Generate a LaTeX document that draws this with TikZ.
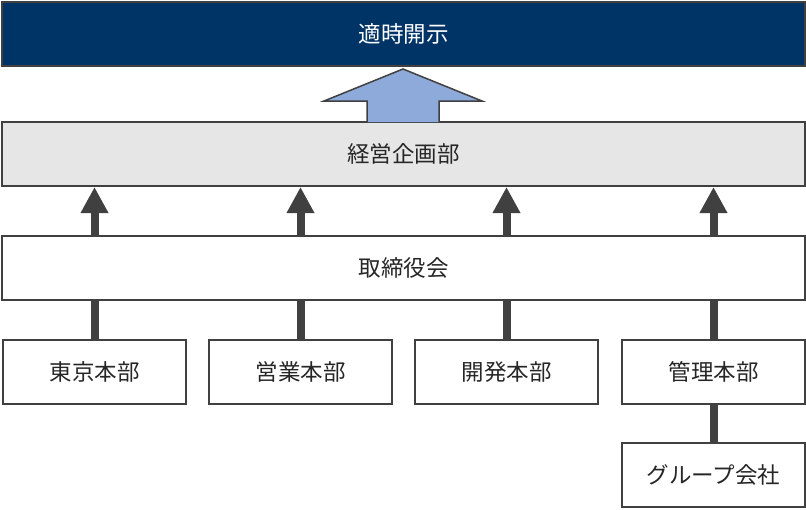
\documentclass[tikz,border=0pt]{standalone}
\usepackage{fontspec}
\setmainfont{Noto Sans CJK JP}
\usetikzlibrary{arrows.meta}
\definecolor{navy}{HTML}{003366}
\definecolor{edge}{HTML}{404040}
\definecolor{lightgray}{HTML}{E6E6E6}
\definecolor{arrowblue}{HTML}{8EAADB}
\definecolor{txt}{HTML}{262626}
\tikzset{
  box/.style={draw=edge, line width=2pt, fill=white, minimum height=64pt, inner sep=0pt, font=\fontsize{22.5}{22.5}\selectfont, text=txt},
  small/.style={box, minimum width=183pt},
  wide/.style={box, minimum width=803pt},
  link/.style={draw=edge, line width=8pt},
  uparrow/.style={link, -{Triangle[width=26pt,length=26pt]}},
  bigarrow/.style={draw=edge, line width=1.5pt, fill=arrowblue, line join=miter}
}
\begin{document}
\begin{tikzpicture}[x=1pt,y=-1pt]
\useasboundingbox (0,0) rectangle (806,509);
\node[wide, fill=navy, text=white] (top) at (403.5,34) {適時開示};
\node[wide, fill=lightgray] (keiei) at (403.5,154) {経営企画部};
\node[wide] (board) at (403.5,268) {取締役会};
\node[small] (tokyo) at (94.5,372) {東京本部};
\node[small] (sales) at (300.5,372) {営業本部};
\node[small] (dev) at (506.5,372) {開発本部};
\node[small] (admin) at (713.5,372) {管理本部};
\node[small] (group) at (713.5,475) {グループ会社};
% big arrow
\draw[bigarrow] (367,122) -- (367,101) -- (324,101) -- (403,69) -- (482,101) -- (439,101) -- (439,122);
% arrows board -> keiei
\foreach \n in {tokyo,sales,dev,admin}{
  \draw[uparrow] (board.north -| \n) -- (keiei.south -| \n);
  \draw[link] (\n.north) -- (board.south -| \n);
}
\draw[link] (group.north) -- (admin.south);
\end{tikzpicture}
\end{document}
